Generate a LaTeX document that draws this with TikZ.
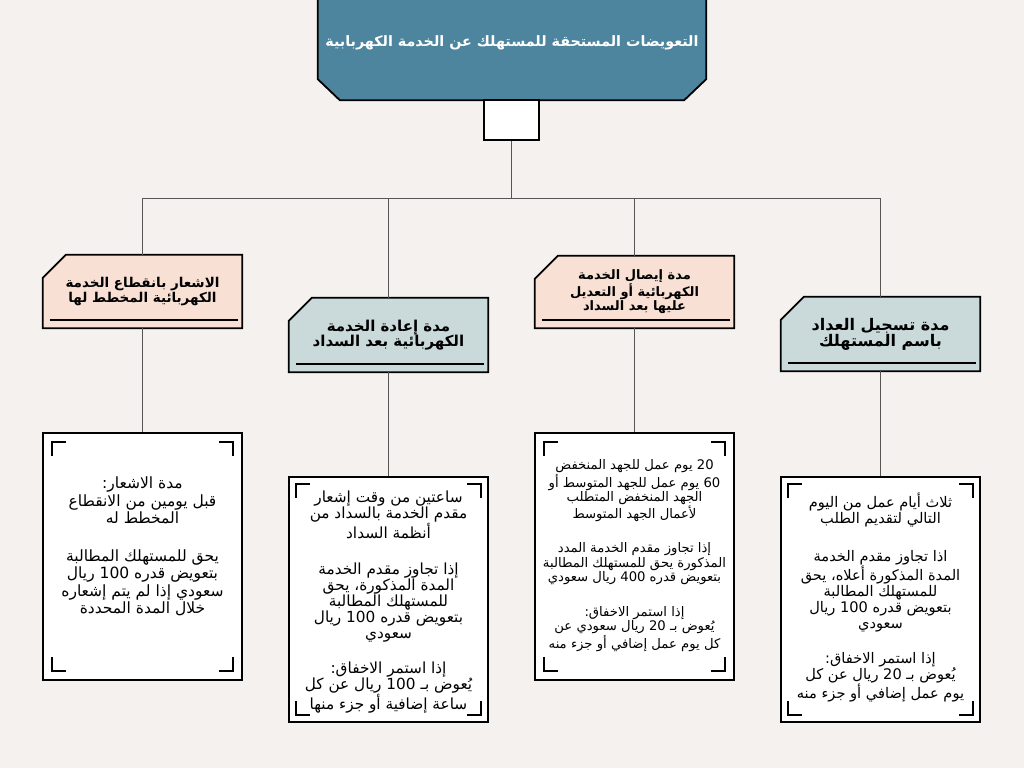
\documentclass[tikz,border=0pt]{standalone}
\usepackage{fontspec}
\TeXXeTstate=1
\newfontfamily\arabicfont[Script=Arabic]{DejaVu Sans}
\usetikzlibrary{backgrounds,calc}
\definecolor{bgc}{HTML}{F5F1EE}
\definecolor{topblue}{HTML}{4E859E}
\definecolor{pinkc}{HTML}{F8E0D4}
\definecolor{greyc}{HTML}{CAD9D9}
\definecolor{connc}{HTML}{555555}
\newcommand{\ar}[1]{\beginR #1\endR}
\newcommand{\nm}[1]{\beginL #1\endL{}}
\tikzset{
  conn/.style={draw=connc, line width=0.9pt},
  edgebox/.style={draw=black, line width=1.8pt, line join=miter},
  hdrnode/.style={inner sep=0pt, minimum width=199pt, align=center, text=black,
     font=\arabicfont\bfseries\fontsize{14}{15}\selectfont},
  uline/.style={draw=black, line width=1.8pt},
  detail/.style={draw=black, line width=1.8pt, fill=white, inner sep=0pt, minimum width=199pt, minimum height=247pt},
  dtext/.style={inner sep=0pt, align=center, text=black},
  brk/.style={draw=black, line width=1.8pt},
}
\newcommand{\brackets}[2]{%
  \draw[brk] ($(#1.north west)+(#2,#2+14)$) -- ($(#1.north west)+(#2,#2)$) -- ($(#1.north west)+(#2+14,#2)$);
  \draw[brk] ($(#1.north east)+(-#2,#2+14)$) -- ($(#1.north east)+(-#2,#2)$) -- ($(#1.north east)+(-#2-14,#2)$);
  \draw[brk] ($(#1.south west)+(#2,-#2-14)$) -- ($(#1.south west)+(#2,-#2)$) -- ($(#1.south west)+(#2+14,-#2)$);
  \draw[brk] ($(#1.south east)+(-#2,-#2-14)$) -- ($(#1.south east)+(-#2,-#2)$) -- ($(#1.south east)+(-#2-14,-#2)$);
}
\newcommand{\hdrshape}[2]{%
  \draw[edgebox, fill=#2] (#1.south west) -- ($(#1.north west)+(0,23)$) -- ($(#1.north west)+(23,0)$) -- (#1.north east) -- (#1.south east) -- cycle;
  \draw[uline] ($(#1.south west)+(7,-8)$) -- ($(#1.south east)+(-4,-8)$);
}
\begin{document}
\begin{tikzpicture}[x=1pt,y=-1pt]
\useasboundingbox (0,0) rectangle (1024,768);
\begin{scope}[on background layer]
\fill[bgc] (0,0) rectangle (1024,768);
\end{scope}

% top title
\node[inner sep=0pt, minimum width=388pt, minimum height=114pt, text=white,
      font=\arabicfont\bfseries\fontsize{14.3}{17}\selectfont] (top) at (512,43)
      {\ar{التعويضات المستحقة للمستهلك عن الخدمة الكهربابية}};
\begin{scope}[on background layer]
\draw[edgebox, fill=topblue] (top.north west) -- ($(top.south west)+(0,-21)$) -- ($(top.south west)+(22,0)$)
   -- ($(top.south east)+(-22,0)$) -- ($(top.south east)+(0,-21)$) -- (top.north east) -- cycle;
\end{scope}
\node[draw=black, line width=1.6pt, fill=white, inner sep=0pt, minimum width=55pt, minimum height=40pt] (sq) at (511.5,120) {};

% headers
\node[hdrnode, minimum height=73pt, font=\arabicfont\bfseries\fontsize{13.5}{15}\selectfont] (h1) at (142.5,291.5)
  {\ar{الاشعار بانقطاع الخدمة}\\\ar{الكهربائية المخطط لها}};
\node[hdrnode, minimum height=74pt, font=\arabicfont\bfseries\fontsize{15}{15.5}\selectfont] (h2) at (388.5,335)
  {\ar{مدة إعادة الخدمة}\\\ar{الكهربائية بعد السداد}};
\node[hdrnode, minimum height=72pt, font=\arabicfont\bfseries\fontsize{13}{12.5}\selectfont] (h3) at (634.5,292)
  {\ar{مدة إيصال الخدمة}\\\ar{الكهربائية أو التعديل}\\\ar{عليها بعد السداد}};
\node[hdrnode, minimum height=74pt, font=\arabicfont\bfseries\fontsize{16}{16}\selectfont] (h4) at (880.5,334)
  {\ar{مدة تسجيل العداد}\\\ar{باسم المستهلك}};
\begin{scope}[on background layer]
\hdrshape{h1}{pinkc}
\hdrshape{h2}{greyc}
\hdrshape{h3}{pinkc}
\hdrshape{h4}{greyc}
\end{scope}

% detail boxes
\node[detail] (d1) at (142.5,556.5) {};
\node[detail, minimum height=245pt] (d2) at (388.5,599.5) {};
\node[detail] (d3) at (634.5,556.5) {};
\node[detail, minimum height=245pt] (d4) at (880.5,599.5) {};
\brackets{d1}{10}
\brackets{d2}{8}
\brackets{d3}{10}
\brackets{d4}{8}

\node[dtext, font=\arabicfont\fontsize{15.5}{17.5}\selectfont] (t1) at ($(d1.center)+(0,-10)$)
  {\ar{مدة الاشعار:}\\\ar{قبل يومين من الانقطاع}\\\ar{المخطط له}\\[20pt]
   \ar{يحق للمستهلك المطالبة}\\\ar{بتعويض قدره \nm{100} ريال}\\\ar{سعودي إذا لم يتم إشعاره}\\\ar{خلال المدة المحددة}};
\node[dtext, font=\arabicfont\fontsize{15.3}{16}\selectfont] (t2) at ($(d2.center)+(0,3)$)
  {\ar{ساعتين من وقت إشعار}\\\ar{مقدم الخدمة بالسداد من}\\\ar{أنظمة السداد}\\[20pt]
   \ar{إذا تجاوز مقدم الخدمة}\\\ar{المدة المذكورة، يحق}\\\ar{للمستهلك المطالبة}\\\ar{بتعويض قدره \nm{100} ريال}\\\ar{سعودي}\\[19pt]
   \ar{إذا استمر الاخفاق:}\\\ar{يُعوض بـ \nm{100} ريال عن كل}\\\ar{ساعة إضافية أو جزء منها}};
\node[dtext, font=\arabicfont\fontsize{13.2}{14.5}\selectfont] (t3) at ($(d3.center)+(0,-1)$)
  {\ar{\nm{20} يوم عمل للجهد المنخفض}\\\ar{\nm{60} يوم عمل للجهد المتوسط أو}\\\ar{الجهد المنخفض المتطلب}\\\ar{لأعمال الجهد المتوسط}\\[20pt]
   \ar{إذا تجاوز مقدم الخدمة المدد}\\\ar{المذكورة يحق للمستهلك المطالبة}\\\ar{بتعويض قدره \nm{400} ريال سعودي}\\[20pt]
   \ar{إذا استمر الاخفاق:}\\\ar{يُعوض بـ \nm{20} ريال سعودي عن}\\\ar{كل يوم عمل إضافي أو جزء منه}};
\node[dtext, font=\arabicfont\fontsize{14.6}{16}\selectfont] (t4) at ($(d4.center)+(0,-2)$)
  {\ar{ثلاث أيام عمل من اليوم}\\\ar{التالي لتقديم الطلب}\\[22pt]
   \ar{اذا تجاوز مقدم الخدمة}\\\ar{المدة المذكورة أعلاه، يحق}\\\ar{للمستهلك المطالبة}\\\ar{بتعويض قدره \nm{100} ريال}\\\ar{سعودي}\\[19pt]
   \ar{إذا استمر الاخفاق:}\\\ar{يُعوض بـ \nm{20} ريال عن كل}\\\ar{يوم عمل إضافي أو جزء منه}};

% connectors
\coordinate (b0) at (511.5,198);
\coordinate (b1) at (h1.north |- b0);
\coordinate (b2) at (h2.north |- b0);
\coordinate (b3) at (h3.north |- b0);
\coordinate (b4) at (h4.north |- b0);
\draw[conn] (sq.south) -- (b0);
\draw[conn] (b1) -- (b4);
\draw[conn] (b1) -- (h1.north);
\draw[conn] (b2) -- (h2.north);
\draw[conn] (b3) -- (h3.north);
\draw[conn] (b4) -- (h4.north);
\draw[conn] (h1.south) -- (d1.north);
\draw[conn] (h2.south) -- (d2.north);
\draw[conn] (h3.south) -- (d3.north);
\draw[conn] (h4.south) -- (d4.north);
\end{tikzpicture}
\end{document}
